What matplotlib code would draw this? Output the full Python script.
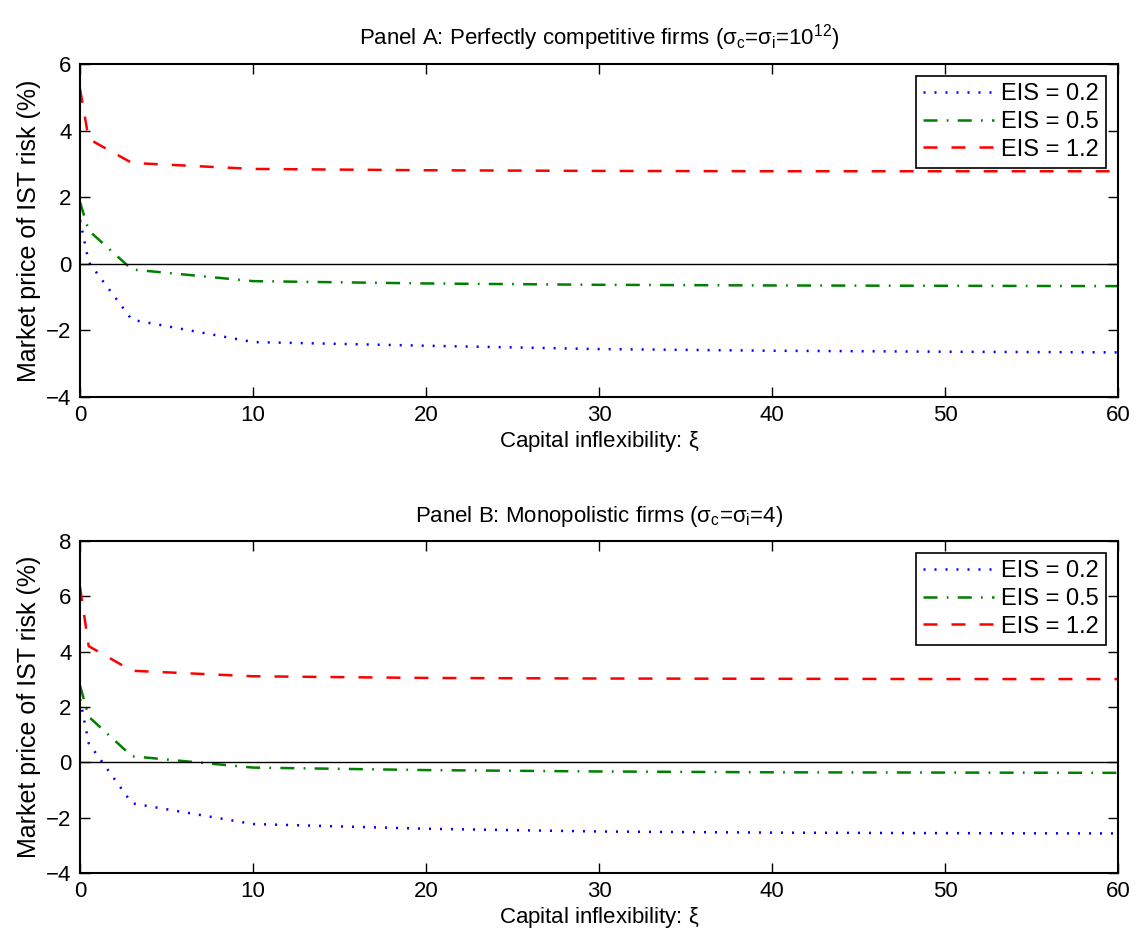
import numpy as np
import matplotlib
matplotlib.use("Agg")
import matplotlib.pyplot as plt

plt.rcParams['font.family'] = ['Liberation Sans', 'DejaVu Sans']
plt.rcParams['mathtext.fontset'] = 'custom'
plt.rcParams['mathtext.rm'] = 'Liberation Sans'
plt.rcParams['mathtext.it'] = 'Liberation Sans'
plt.rcParams['mathtext.sf'] = 'Liberation Sans'

# capital inflexibility grid
xi = [0, 0.5, 3, 10, 20, 30, 40, 50, 60]

# Panel A: perfectly competitive firms
a_eis02 = [1.32, 0.05, -1.68, -2.35, -2.46, -2.56, -2.61, -2.64, -2.66]
a_eis05 = [1.85, 1.00, -0.17, -0.52, -0.59, -0.63, -0.65, -0.66, -0.67]
a_eis12 = [5.25, 3.75, 3.03, 2.85, 2.81, 2.79, 2.78, 2.78, 2.78]

# Panel B: monopolistic firms
b_eis02 = [2.29, 0.69, -1.48, -2.23, -2.40, -2.50, -2.54, -2.56, -2.57]
b_eis05 = [2.77, 1.65, 0.22, -0.19, -0.28, -0.33, -0.36, -0.37, -0.38]
b_eis12 = [6.33, 4.20, 3.31, 3.11, 3.05, 3.03, 3.02, 3.01, 3.01]

labels = ['EIS = 0.2', 'EIS = 0.5', 'EIS = 1.2']
titles = [r'Panel A: Perfectly competitive firms ($\sigma_c$=$\sigma_i$=10$^{12}$)',
          r'Panel B: Monopolistic firms ($\sigma_c$=$\sigma_i$=4)']
ylims = [(-4, 6), (-4, 8)]

fig = plt.figure(figsize=(11.37, 9.35), dpi=100)
ax1 = fig.add_axes([0.0704, 0.5754, 0.9129, 0.3561])
ax2 = fig.add_axes([0.0704, 0.0663, 0.9129, 0.3551])

panels = [(ax1, [a_eis02, a_eis05, a_eis12]), (ax2, [b_eis02, b_eis05, b_eis12])]
styles = [dict(color='blue', linestyle=(0, (0.8, 3.6))),
          dict(color=(0, 0.5, 0), linestyle=(0, (5.6, 3.7, 0.7, 3.7))),
          dict(color='red', linestyle=(0, (5.6, 5.6)))]

for i, (ax, series) in enumerate(panels):
    for y, lab, st in zip(series, labels, styles):
        ax.plot(xi, y, lw=1.8, label=lab, **st)
    ax.axhline(0, color='black', lw=1.0)
    ax.set_xlim(0, 60)
    ax.set_ylim(*ylims[i])
    ax.set_xticks(np.arange(0, 61, 10))
    ax.set_yticks(np.arange(ylims[i][0], ylims[i][1] + 1, 2))
    ax.tick_params(direction='in', length=7, width=1, top=True, right=True,
                   labelsize=16, pad=6)
    for s in ax.spines.values():
        s.set_linewidth(1.5)
    ax.set_xlabel(r'Capital inflexibility: $\xi$', fontsize=16, labelpad=2)
    ax.set_ylabel('Market price of IST risk (%)', fontsize=18, labelpad=4)
    ax.set_title(titles[i], fontsize=16, pad=14)
    leg = ax.legend(loc='upper right', fontsize=17, handlelength=3.0,
                    handletextpad=0.3, fancybox=False, framealpha=1,
                    edgecolor='black', borderaxespad=0.5, labelspacing=0.25,
                    borderpad=0.3)
    leg.get_frame().set_linewidth(1.2)

fig.savefig('out.png', dpi=100)
